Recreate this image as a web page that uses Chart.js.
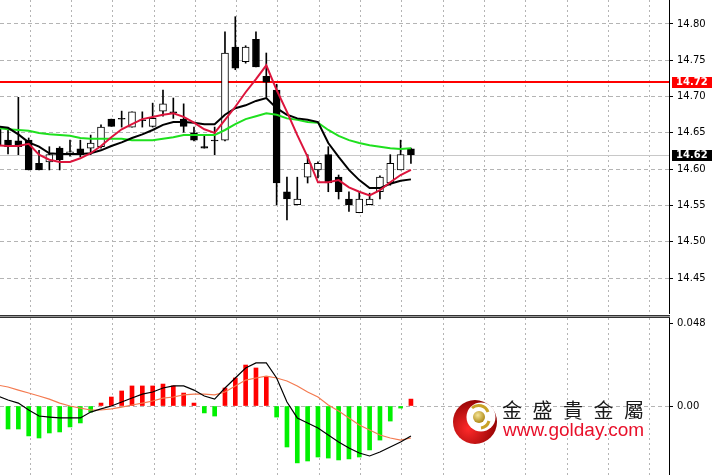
<!DOCTYPE html>
<html>
<head>
<meta charset="utf-8">
<title>Chart</title>
<script src="https://cdn.jsdelivr.net/npm/chart.js@4.4.1/dist/chart.umd.min.js"></script>
<style>
  body { margin: 0; background: #fff; }
  #page { position: relative; width: 713px; height: 475px; overflow: hidden; }
  #precio { position: absolute; left: 0; top: 0; }
  #macd { position: absolute; left: 0; top: 318px; }
  #sep { position: absolute; left: 0; top: 315px; width: 670px; height: 3px;
         background: linear-gradient(#333 0 1px, #999 1px 2px, #333 2px 3px); }
  .logo { position: absolute; left: 453px; top: 399px; }
  .cn { position: absolute; left: 502px; top: 400px; font: 20px/20px 'Noto Sans CJK TC', sans-serif;
        letter-spacing: 10.5px; color: #1a1a1a; white-space: nowrap; }
  .url { position: absolute; left: 503px; top: 420px; font: 19px/19px 'Liberation Sans', Arial, sans-serif;
         color: #e8102a; white-space: nowrap; }
</style>
</head>
<body>
<div id="page">
  <canvas id="precio" width="713" height="316"></canvas>
  <div id="sep"></div>
  <canvas id="macd" width="713" height="157"></canvas>
  <svg class="logo" width="46" height="46" viewBox="0 0 46 46">
    <defs>
      <radialGradient id="rojo" cx="35%" cy="65%" r="70%">
        <stop offset="0" stop-color="#ff2a2a"/>
        <stop offset="1" stop-color="#8c0000"/>
      </radialGradient>
      <radialGradient id="oro" cx="40%" cy="35%" r="70%">
        <stop offset="0" stop-color="#f6e596"/>
        <stop offset="1" stop-color="#a8820c"/>
      </radialGradient>
    </defs>
    <circle cx="22" cy="23" r="22" fill="url(#rojo)"/>
    <circle cx="28" cy="18" r="14.5" fill="#fff"/>
    <path d="M19 9 A10 10 0 0 1 35 13" fill="none" stroke="#c9a227" stroke-width="3"/>
    <path d="M36 22 A10 10 0 0 1 28 29" fill="none" stroke="#c9a227" stroke-width="3"/>
    <circle cx="26" cy="18" r="6" fill="url(#oro)"/>
  </svg>
  <div class="cn">金盛貴金屬</div>
  <div class="url">www.golday.com</div>
</div>
<script>
// velas (precio)
const apertura = [14.657, 14.640, 14.639, 14.640, 14.608, 14.610, 14.629, 14.622, 14.628, 14.629,
  14.631, 14.669, 14.670, 14.658, 14.668, 14.659, 14.680, 14.679, 14.669, 14.650,
  14.631, 14.640, 14.640, 14.768, 14.748, 14.779, 14.728, 14.709, 14.569, 14.551,
  14.589, 14.599, 14.620, 14.589, 14.559, 14.540, 14.551, 14.569, 14.581, 14.599, 14.628];
const maximo = [14.679, 14.657, 14.699, 14.643, 14.626, 14.631, 14.631, 14.640, 14.640, 14.647,
  14.661, 14.669, 14.680, 14.679, 14.679, 14.691, 14.709, 14.698, 14.690, 14.658,
  14.647, 14.658, 14.789, 14.810, 14.770, 14.789, 14.760, 14.717, 14.589, 14.589,
  14.620, 14.610, 14.631, 14.592, 14.569, 14.569, 14.567, 14.591, 14.620, 14.640, 14.629];
const minimo = [14.626, 14.621, 14.620, 14.599, 14.599, 14.599, 14.599, 14.618, 14.617, 14.620,
  14.629, 14.659, 14.658, 14.658, 14.658, 14.658, 14.673, 14.670, 14.651, 14.639,
  14.629, 14.620, 14.639, 14.737, 14.746, 14.741, 14.699, 14.551, 14.530, 14.551,
  14.581, 14.588, 14.569, 14.559, 14.542, 14.540, 14.551, 14.559, 14.578, 14.599, 14.608];
const cierre = [14.632, 14.631, 14.631, 14.599, 14.599, 14.620, 14.613, 14.624, 14.620, 14.636,
  14.658, 14.659, 14.669, 14.679, 14.667, 14.670, 14.690, 14.678, 14.659, 14.640,
  14.629, 14.639, 14.760, 14.739, 14.768, 14.741, 14.720, 14.581, 14.559, 14.559,
  14.608, 14.608, 14.581, 14.569, 14.551, 14.559, 14.559, 14.589, 14.608, 14.620, 14.620];

// medias moviles
const mediaRapida = [14.633, 14.632, 14.632, 14.635, 14.620, 14.613, 14.610, 14.610, 14.615, 14.622,
  14.632, 14.644, 14.655, 14.662, 14.669, 14.672, 14.675, 14.677, 14.672, 14.664,
  14.655, 14.650, 14.668, 14.686, 14.706, 14.724, 14.743, 14.709, 14.679, 14.647,
  14.617, 14.582, 14.582, 14.585, 14.575, 14.569, 14.564, 14.571, 14.582, 14.592, 14.599];
const mediaMedia = [14.659, 14.657, 14.648, 14.637, 14.631, 14.622, 14.621, 14.621, 14.621, 14.622,
  14.626, 14.632, 14.637, 14.643, 14.648, 14.654, 14.661, 14.665, 14.665, 14.664,
  14.662, 14.662, 14.675, 14.684, 14.688, 14.694, 14.698, 14.684, 14.675, 14.670,
  14.668, 14.665, 14.636, 14.617, 14.599, 14.585, 14.574, 14.574, 14.580, 14.584, 14.586];
const mediaLenta = [14.657, 14.655, 14.654, 14.653, 14.650, 14.648, 14.647, 14.646, 14.643, 14.642,
  14.642, 14.642, 14.642, 14.640, 14.640, 14.640, 14.642, 14.644, 14.647, 14.647,
  14.647, 14.647, 14.654, 14.662, 14.669, 14.673, 14.677, 14.675, 14.670, 14.668,
  14.665, 14.664, 14.654, 14.646, 14.640, 14.636, 14.633, 14.631, 14.629, 14.628, 14.629];

// MACD
const histograma = [-0.0127, -0.0133, -0.0133, -0.0173, -0.0185, -0.0156, -0.0150, -0.0121, -0.0098, -0.0035,
  0.0017, 0.0052, 0.0087, 0.0116, 0.0116, 0.0116, 0.0127, 0.0116, 0.0075, 0.0017,
  -0.0040, -0.0058, 0.0104, 0.0162, 0.0237, 0.0220, 0.0168, -0.0064, -0.0237, -0.0329,
  -0.0318, -0.0295, -0.0301, -0.0312, -0.0306, -0.0295, -0.0254, -0.0197, -0.0087, -0.0012, 0.0040];
const lineaMacd = [0.0058, 0.0035, 0.0017, -0.0023, -0.0058, -0.0064, -0.0069, -0.0069, -0.0069, -0.0035,
  -0.0017, 0.0000, 0.0023, 0.0046, 0.0069, 0.0081, 0.0104, 0.0116, 0.0116, 0.0092,
  0.0058, 0.0040, 0.0104, 0.0162, 0.0220, 0.0249, 0.0249, 0.0162, 0.0023, -0.0069,
  -0.0098, -0.0127, -0.0168, -0.0208, -0.0243, -0.0272, -0.0289, -0.0266, -0.0237, -0.0208, -0.0173];
const lineaSenal = [0.0121, 0.0110, 0.0092, 0.0075, 0.0058, 0.0040, 0.0017, 0.0000, -0.0012, -0.0023,
  -0.0023, -0.0017, -0.0006, 0.0006, 0.0017, 0.0029, 0.0046, 0.0052, 0.0064, 0.0069,
  0.0069, 0.0064, 0.0081, 0.0116, 0.0150, 0.0162, 0.0173, 0.0162, 0.0145, 0.0116,
  0.0081, 0.0052, 0.0006, -0.0029, -0.0069, -0.0110, -0.0139, -0.0168, -0.0185, -0.0197, -0.0185];

const ticksPrecio = [14.45, 14.50, 14.55, 14.60, 14.65, 14.70, 14.75, 14.80];
const ticksMacd = [0, 0.048];
const resistencia = 14.72;
const ultimo = 14.62;

Chart.defaults.font.family = "'DejaVu Sans', sans-serif";
Chart.defaults.font.size = 10;
Chart.defaults.color = '#000';

const puntos = arr => arr.map((v, i) => ({ x: i, y: v }));
const rangoX = { min: 0.223, max: 64.98 };
const gridX = s => {
  s.ticks = [];
  for (let v = 3.13; v < s.max; v += 4) s.ticks.push({ value: v });
};
const sube = i => cierre[i] >= apertura[i];

const etiquetas = {
  id: 'etiquetas',
  beforeDatasetsDraw(chart) {
    const { ctx, chartArea: a, scales: { y } } = chart;
    ctx.save();
    let py = Math.round(y.getPixelForValue(ultimo)) + 0.5;
    ctx.strokeStyle = '#c8c8c8';
    ctx.lineWidth = 1;
    ctx.beginPath(); ctx.moveTo(a.left, py); ctx.lineTo(a.right, py); ctx.stroke();
    py = Math.round(y.getPixelForValue(resistencia));
    ctx.strokeStyle = '#ff0000';
    ctx.lineWidth = 2;
    ctx.beginPath(); ctx.moveTo(a.left, py); ctx.lineTo(a.right, py); ctx.stroke();
    ctx.restore();
  },
  afterDraw(chart) {
    const { ctx, chartArea: a, scales: { y } } = chart;
    ctx.save();
    ctx.font = "bold 10px 'DejaVu Sans'";
    ctx.textBaseline = 'middle';
    [[resistencia, '#ff0000'], [ultimo, '#000']].forEach(([v, c]) => {
      const py = Math.round(y.getPixelForValue(v));
      ctx.fillStyle = c;
      ctx.fillRect(a.right + 3, py - 5, 40, 11);
      ctx.fillStyle = '#fff';
      ctx.fillText(v.toFixed(2), a.right + 7, py + 0.5);
    });
    ctx.restore();
  }
};

new Chart(document.getElementById('precio'), {
  type: 'bar',
  data: {
    datasets: [
      { type: 'line', data: puntos(mediaRapida), borderColor: '#dc143c', borderWidth: 2, pointRadius: 0, order: 0 },
      { type: 'line', data: puntos(mediaMedia), borderColor: '#000', borderWidth: 2, pointRadius: 0, order: 0 },
      { type: 'line', data: puntos(mediaLenta), borderColor: '#1ee01e', borderWidth: 2, pointRadius: 0, order: 0 },
      {
        data: apertura.map((o, i) => ({ x: i, y: [o, cierre[i]] })),
        backgroundColor: c => sube(c.dataIndex) ? '#fff' : '#000',
        borderColor: '#000', borderWidth: 1, borderSkipped: false,
        grouped: false, barThickness: 7, maxBarThickness: 7, order: 1
      },
      {
        data: minimo.map((l, i) => ({ x: i, y: [l, maximo[i]] })),
        backgroundColor: '#000', borderWidth: 0,
        grouped: false, barThickness: 1, maxBarThickness: 1, order: 2
      }
    ]
  },
  options: {
    responsive: false,
    animation: false,
    layout: { padding: 0 },
    plugins: { legend: { display: false }, tooltip: { enabled: false } },
    scales: {
      x: {
        type: 'linear', ...rangoX, offset: false,
        afterBuildTicks: gridX,
        afterFit: s => { s.height = 3; s.paddingLeft = s.paddingRight = 0; },
        ticks: { display: false },
        grid: { color: '#b4b4b4', drawTicks: false, offset: false },
        border: { display: false, dash: [2, 3] }
      },
      y: {
        position: 'right', min: 14.402, max: 14.833,
        afterBuildTicks: s => { s.ticks = ticksPrecio.map(v => ({ value: v })); },
        afterFit: s => { s.width = 44; s.paddingTop = s.paddingBottom = 0; },
        ticks: { padding: 4, callback: v => v.toFixed(2) },
        grid: { color: '#b4b4b4', tickColor: '#000', tickLength: 4, tickBorderDash: [] },
        border: { display: true, color: '#000', width: 1, dash: [4, 3] }
      }
    }
  },
  plugins: [etiquetas]
});

new Chart(document.getElementById('macd'), {
  type: 'bar',
  data: {
    datasets: [
      { type: 'line', data: puntos(lineaMacd), borderColor: '#000', borderWidth: 1.2, pointRadius: 0, order: 0 },
      { type: 'line', data: puntos(lineaSenal), borderColor: '#f47a50', borderWidth: 1.2, pointRadius: 0, order: 0 },
      {
        data: puntos(histograma),
        backgroundColor: c => c.raw && c.raw.y >= 0 ? '#ff0000' : '#00f000',
        borderWidth: 0, grouped: false, barThickness: 4, maxBarThickness: 4, order: 1
      }
    ]
  },
  options: {
    responsive: false,
    animation: false,
    layout: { padding: 0 },
    plugins: { legend: { display: false }, tooltip: { enabled: false } },
    scales: {
      x: {
        type: 'linear', ...rangoX, offset: false,
        afterBuildTicks: gridX,
        afterFit: s => { s.height = 0; s.paddingLeft = s.paddingRight = 0; },
        ticks: { display: false },
        grid: { color: '#b4b4b4', drawTicks: false, offset: false },
        border: { display: false, dash: [2, 3] }
      },
      y: {
        position: 'right', min: -0.0399, max: 0.0509,
        afterBuildTicks: s => { s.ticks = ticksMacd.map(v => ({ value: v })); },
        afterFit: s => { s.width = 44; s.paddingTop = s.paddingBottom = 0; },
        ticks: { padding: 4, callback: v => v === 0 ? '0.00' : v.toFixed(3) },
        grid: { color: c => c.tick && c.tick.value === 0 ? '#b4b4b4' : 'rgba(0,0,0,0)', tickColor: '#000', tickLength: 4, tickBorderDash: [] },
        border: { display: true, color: '#000', width: 1, dash: [4, 3] }
      }
    }
  }
});
</script>
</body>
</html>
